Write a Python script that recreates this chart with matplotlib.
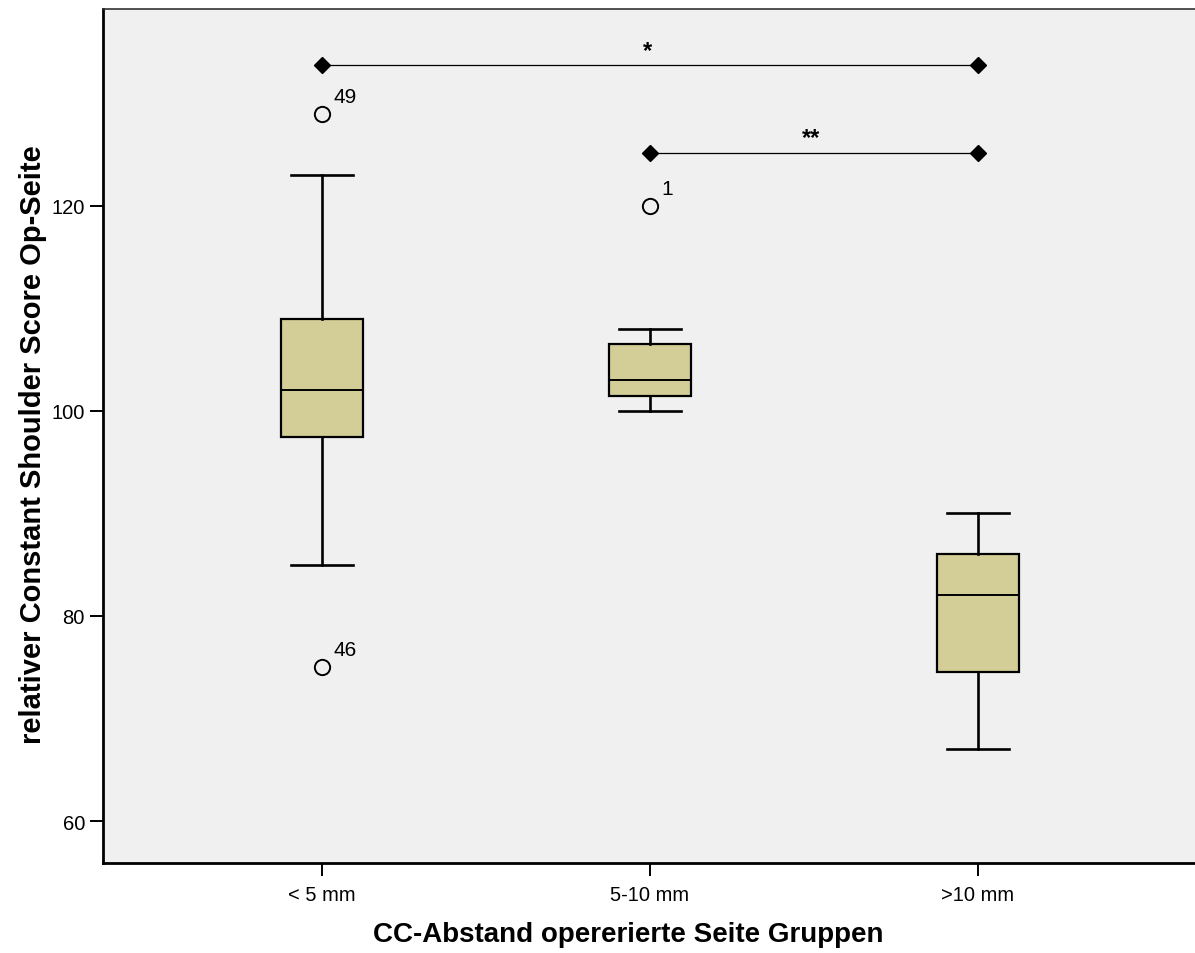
import numpy as np
import matplotlib
matplotlib.use('Agg')
import matplotlib.pyplot as plt

plt.rcParams['font.family'] = ['Liberation Sans', 'DejaVu Sans']

# data
groups = ['< 5 mm', '5-10 mm', '>10 mm']
whislo = [85, 100, 67]
q1 = [97.5, 101.5, 74.5]
med = [102, 103, 82]
q3 = [109, 106.5, 86]
whishi = [123, 108, 90]
outlier_vals = [[129, 75], [120], []]
outlier_ids = [['49', '46'], ['1'], []]

# significance brackets: (group a, group b, height, label)
sig_pairs = [(0, 2, 133.7, '*'), (1, 2, 125.2, '**')]

yticks = [60, 80, 100, 120]

box_color = '#d3ce97'
bg_color = '#f0f0f0'

fig = plt.figure(figsize=(11.95, 9.54), dpi=100)
ax = fig.add_axes([0.0862, 0.0943, 0.9138, 0.8952])
ax.set_facecolor(bg_color)

stats = []
for i in range(len(groups)):
    stats.append(dict(med=med[i], q1=q1[i], q3=q3[i],
                      whislo=whislo[i], whishi=whishi[i],
                      fliers=outlier_vals[i], label=groups[i]))

pos = np.arange(len(groups))
ax.bxp(stats, positions=pos, widths=0.25, patch_artist=True,
       boxprops=dict(facecolor=box_color, edgecolor='black', linewidth=1.6),
       medianprops=dict(color='black', linewidth=1.4),
       whiskerprops=dict(color='black', linewidth=1.9),
       capprops=dict(color='black', linewidth=1.9),
       capwidths=0.19,
       flierprops=dict(marker='o', markerfacecolor='none', markeredgecolor='black',
                       markersize=11, markeredgewidth=1.4))

# case numbers next to outliers
for i in range(len(groups)):
    for v, lab in zip(outlier_vals[i], outlier_ids[i]):
        ax.annotate(lab, (pos[i], v), xytext=(8, 8.5), textcoords='offset points',
                    fontsize=15, ha='left', va='baseline')

# significance lines
for a, b, h, lab in sig_pairs:
    ax.plot([pos[a], pos[b]], [h, h], color='black', linewidth=0.9,
            marker='D', markersize=8, markerfacecolor='black')
    ax.annotate(lab, ((pos[a] + pos[b]) / 2, h), xytext=(-2, 6),
                textcoords='offset points', ha='center', va='baseline',
                fontsize=17, fontweight='bold')

ax.set_xlim(-0.668, 2.662)
ax.set_ylim(55.9, 139.2)
ax.set_yticks(yticks)
ax.set_xticks(pos)
ax.set_xticklabels(groups)

ax.tick_params(axis='both', direction='out', length=9.5, width=1.4, labelsize=14.5)
ax.tick_params(axis='y', pad=3.5)
ax.tick_params(axis='x', pad=6.5)

for s in ['left', 'bottom']:
    ax.spines[s].set_linewidth(2)
ax.spines['right'].set_visible(False)
ax.spines['top'].set_linewidth(1.2)
ax.spines['top'].set_color('#333333')

ax.set_xlabel('CC-Abstand opererierte Seite Gruppen', fontsize=20, fontweight='bold', labelpad=12)
ax.set_ylabel('relativer Constant Shoulder Score Op-Seite', fontsize=21, fontweight='bold', labelpad=3)
ax.xaxis.label.set_x(0.481)
ax.yaxis.label.set_y(0.4906)

fig.savefig('out.png', dpi=100)
